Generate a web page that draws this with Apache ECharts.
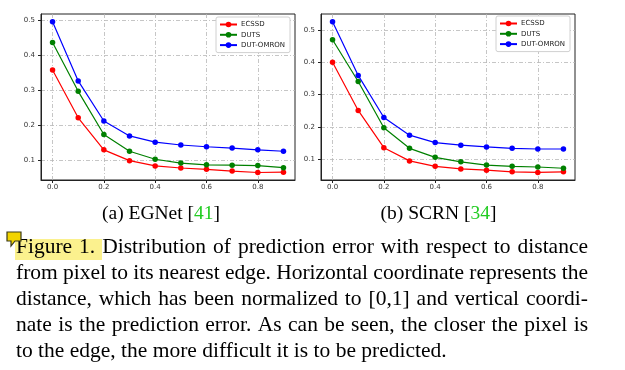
<!DOCTYPE html>
<html><head><meta charset="utf-8">
<script src="https://cdn.jsdelivr.net/npm/echarts@6/dist/echarts.min.js"></script>
<style>html,body{margin:0;padding:0;background:#fff;}#c{width:625px;height:370px;}</style>
</head><body><div id="c"></div>
<script>
// ---- data ----
const xValues = [0.0, 0.1, 0.2, 0.3, 0.4, 0.5, 0.6, 0.7, 0.8, 0.9];
const seriesNames = ['ECSSD', 'DUTS', 'DUT-OMRON'];
const egnetECSSD = [0.358, 0.221, 0.129, 0.098, 0.083, 0.077, 0.073, 0.068, 0.064, 0.065];
const egnetDUTS = [0.437, 0.297, 0.173, 0.125, 0.102, 0.091, 0.086, 0.085, 0.084, 0.078];
const egnetOMRON = [0.497, 0.327, 0.212, 0.169, 0.151, 0.143, 0.138, 0.134, 0.129, 0.125];
const scrnECSSD = [0.401, 0.251, 0.135, 0.094, 0.077, 0.069, 0.065, 0.060, 0.058, 0.060];
const scrnDUTS = [0.471, 0.341, 0.197, 0.133, 0.105, 0.091, 0.081, 0.077, 0.075, 0.071];
const scrnOMRON = [0.527, 0.360, 0.229, 0.174, 0.151, 0.143, 0.1375, 0.133, 0.131, 0.131];
const xTicks = [0.0, 0.2, 0.4, 0.6, 0.8];
const yTicks = [0.1, 0.2, 0.3, 0.4, 0.5];
const subCaptions = ['(a) EGNet [{g|41}]', '(b) SCRN [{g|34}]'];
const captionLines = [
  'Figure 1. Distribution of prediction error with respect to distance',
  'from pixel to its nearest edge. Horizontal coordinate represents the',
  'distance, which has been normalized to [0,1] and vertical coordi-',
  'nate is the prediction error. As can be seen, the closer the pixel is',
  'to the edge, the more difficult it is to be predicted.'
];

// ---- styles ----
const colors = ['#ff0000', '#008000', '#0000ff'];
const panels = [
  { left: 41, ymin: 0.0425, ymax: 0.519, data: [egnetECSSD, egnetDUTS, egnetOMRON], legendLeft: 216, legendTop: 17 },
  { left: 321, ymin: 0.0345, ymax: 0.551, data: [scrnECSSD, scrnDUTS, scrnOMRON], legendLeft: 496, legendTop: 16 }
];
const gridLine = { show: true, lineStyle: { color: '#b8b8b8', width: 0.8, type: [4, 2, 1, 2] } };
const tickFont = { fontSize: 7, color: '#333', fontFamily: 'DejaVu Sans' };

const grid = [], xAxis = [], yAxis = [], series = [], legend = [];
panels.forEach((p, i) => {
  grid.push({ left: p.left, top: 14, width: 254, height: 166, show: true, borderColor: '#222', borderWidth: 1, backgroundColor: 'transparent' });
  xAxis.push({
    type: 'value', gridIndex: i, min: -0.045, max: 0.945,
    axisLine: { show: true, onZero: false, lineStyle: { color: '#222', width: 1 } },
    axisTick: { show: true, length: 3, customValues: xTicks, lineStyle: { color: '#222' } },
    axisLabel: { customValues: xTicks, formatter: v => v.toFixed(1), margin: 4, ...tickFont },
    splitLine: gridLine
  });
  yAxis.push({
    type: 'value', gridIndex: i, min: p.ymin, max: p.ymax,
    axisLine: { show: true, onZero: false, lineStyle: { color: '#222', width: 1 } },
    axisTick: { show: true, length: 3, customValues: yTicks, lineStyle: { color: '#222' } },
    axisLabel: { customValues: yTicks, formatter: v => v.toFixed(1), margin: 6, ...tickFont },
    splitLine: gridLine
  });
  seriesNames.forEach((name, k) => {
    series.push({
      name, type: 'line', xAxisIndex: i, yAxisIndex: i,
      data: xValues.map((x, j) => [x, p.data[k][j]]),
      symbol: 'circle', symbolSize: 5.5, color: colors[k],
      lineStyle: { width: 1.2, color: colors[k] },
      itemStyle: { color: colors[k] },
      animation: false, z: 3 + k
    });
  });
  legend.push({
    data: seriesNames, orient: 'vertical', left: p.legendLeft, top: p.legendTop,
    itemWidth: 17, itemHeight: 7, itemGap: 3.3, padding: [4, 5, 4, 3],
    backgroundColor: '#fff', borderColor: '#d0d0d0', borderWidth: 1, borderRadius: 2,
    textStyle: { fontSize: 7, color: '#222', fontFamily: 'DejaVu Sans', padding: [0, 0, 0, -1] },
    selectedMode: false
  });
});

// ---- caption graphics ----
const graphic = [];
const serif = '"Liberation Serif", "Times New Roman", serif';
const capSize = 21.5;
const capFont = capSize + 'px ' + serif;
// highlight and note icon
graphic.push({ type: 'rect', shape: { x: 15, y: 239, width: 87, height: 21 }, style: { fill: '#fbf18e' }, z: 1 });
graphic.push({ type: 'polygon', shape: { points: [[7, 232], [21, 232], [21, 241], [15, 241], [11, 246], [11, 241], [7, 241]] },
  style: { fill: '#f2d400', stroke: '#3a3a1a', lineWidth: 1.2 }, z: 5 });
// sub captions
const subCenters = [161, 438.5];
subCaptions.forEach((t, i) => {
  graphic.push({ type: 'text', x: subCenters[i], y: 224, z: 4,
    style: { text: t, font: '19.5px ' + serif, fill: '#000', align: 'center', verticalAlign: 'bottom',
      rich: { g: { fill: '#22cc22', font: '19.5px ' + serif } } } });
});
// justified paragraph
const ctx = document.createElement('canvas').getContext('2d');
ctx.font = capFont;
const L = 16, R = 588, base0 = 258, step = 26;
captionLines.forEach((line, i) => {
  const words = line.split(' ');
  const widths = words.map(w => ctx.measureText(w).width);
  const total = widths.reduce((a, b) => a + b, 0);
  const justify = i < captionLines.length - 1;
  const gap = justify ? (R - L - total) / (words.length - 1) : ctx.measureText(' ').width;
  let x = L;
  words.forEach((w, j) => {
    graphic.push({ type: 'text', x, y: base0 + i * step, z: 4,
      style: { text: w, font: capFont, fill: '#000', align: 'left', verticalAlign: 'bottom' } });
    x += widths[j] + gap;
  });
});

const chart = echarts.init(document.getElementById('c'), null, { renderer: 'canvas' });
chart.setOption({ animation: false, backgroundColor: '#fff', grid, xAxis, yAxis, series, legend, graphic });
</script></body></html>
